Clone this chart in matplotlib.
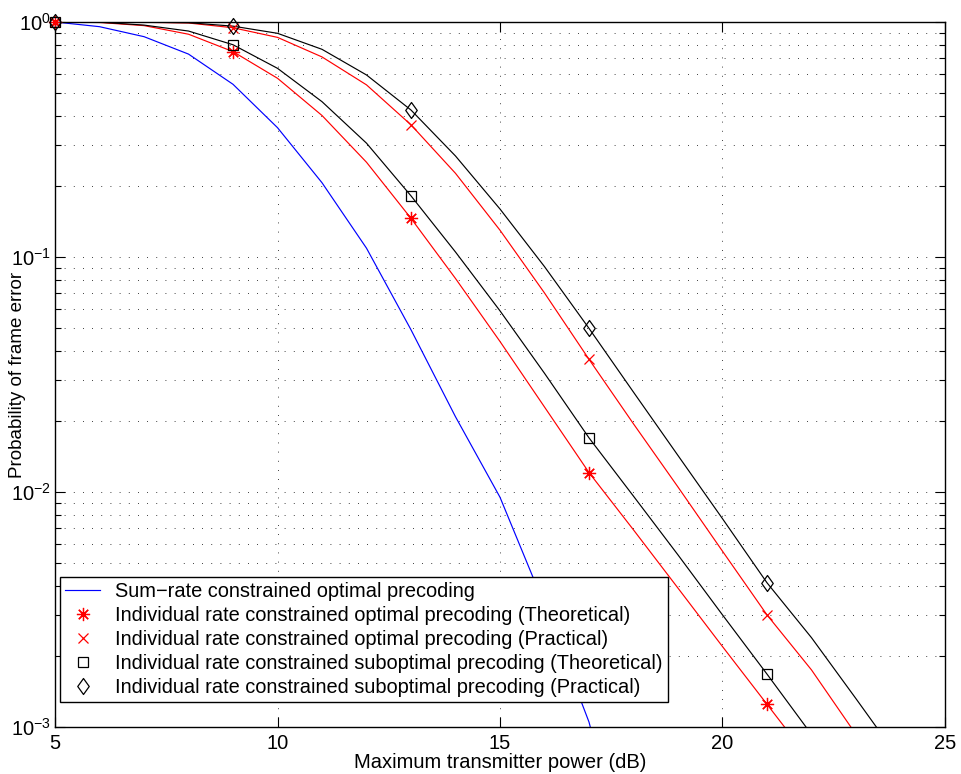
import numpy as np
import matplotlib
matplotlib.use("Agg")
import matplotlib.pyplot as plt
from matplotlib.ticker import LogLocator, NullFormatter, FixedLocator
from matplotlib.path import Path

plt.rcParams['font.family'] = ['Liberation Sans', 'DejaVu Sans']
plt.rcParams['mathtext.fontset'] = 'custom'
plt.rcParams['mathtext.rm'] = 'Liberation Sans'

power_db = [5, 6, 7, 8, 9, 10, 11, 12, 13, 14, 15, 16, 17, 18]
sum_rate = [1.0, 0.955, 0.866, 0.73, 0.543, 0.355, 0.207, 0.109, 0.049,
            0.0209, 0.0095, 0.0033, 0.00105, 0.0002]

power_db_ind = [5, 6, 7, 8, 9, 10, 11, 12, 13, 14, 15, 16, 17, 18, 19, 20, 21, 22, 23, 24]
opt_theory = [1.0, 0.995, 0.965, 0.887, 0.748, 0.576, 0.40, 0.253, 0.146,
              0.081, 0.0437, 0.023, 0.0121, 0.0069, 0.0039, 0.0022, 0.00125,
              0.00071, 0.0004, 0.0002]
opt_practical = [1.0, 1.0, 0.997, 0.99, 0.945, 0.86, 0.71, 0.54, 0.365,
                 0.227, 0.130, 0.0703, 0.0367, 0.0195, 0.0105, 0.0056, 0.0030,
                 0.00175, 0.00093, 0.0005]
sub_theory = [1.0, 0.998, 0.97, 0.915, 0.80, 0.635, 0.458, 0.305, 0.182,
              0.105, 0.059, 0.032, 0.017, 0.0096, 0.0054, 0.0030, 0.00168,
              0.00093, 0.0005, 0.00028]
sub_practical = [1.0, 1.0, 0.998, 0.993, 0.96, 0.895, 0.765, 0.595, 0.422,
                 0.269, 0.160, 0.091, 0.0497, 0.0266, 0.0143, 0.0077, 0.00411,
                 0.0024, 0.00132, 0.00072]

labels = ["Sum\u2212rate constrained optimal precoding",
          "Individual rate constrained optimal precoding (Theoretical)",
          "Individual rate constrained optimal precoding (Practical)",
          "Individual rate constrained suboptimal precoding (Theoretical)",
          "Individual rate constrained suboptimal precoding (Practical)"]

diamond = Path([(0, 1), (0.72, 0), (0, -1), (-0.72, 0), (0, 1)],
               [Path.MOVETO, Path.LINETO, Path.LINETO, Path.LINETO, Path.CLOSEPOLY])

fig = plt.figure(figsize=(9.62, 7.74), dpi=100)
ax = fig.add_axes([0.0572, 0.0607, 0.9251, 0.9109])

lw = 0.85
ax.plot(power_db, sum_rate, color='blue', lw=lw, label=labels[0])
ax.plot(power_db_ind, opt_theory, color='red', lw=lw)
ax.plot(power_db_ind, opt_practical, color='red', lw=lw)
ax.plot(power_db_ind, sub_theory, color='black', lw=lw)
ax.plot(power_db_ind, sub_practical, color='black', lw=lw)

mk = dict(ls='none', markevery=4, clip_on=False, zorder=5)
ax.plot(power_db_ind, opt_theory, marker=(8, 2, 0), color='red',
        markersize=9.5, markeredgewidth=0.9, label=labels[1], **mk)
ax.plot(power_db_ind, opt_practical, marker='x', color='red',
        markersize=7.5, markeredgewidth=0.9, label=labels[2], **mk)
ax.plot(power_db_ind, sub_theory, marker='s', color='black',
        markerfacecolor='none', markersize=7.5, markeredgewidth=0.9,
        label=labels[3], **mk)
ax.plot(power_db_ind, sub_practical, marker=diamond, color='black',
        markerfacecolor='none', markersize=11.5, markeredgewidth=0.9,
        label=labels[4], **mk)

ax.set_yscale('log')
ax.set_xlim(5, 25)
ax.set_ylim(1e-3, 1)
ax.xaxis.set_major_locator(FixedLocator([5, 10, 15, 20, 25]))
ax.yaxis.set_major_locator(LogLocator(base=10, numticks=10))
ax.yaxis.set_minor_locator(LogLocator(base=10, subs=np.arange(2, 10), numticks=20))
ax.yaxis.set_minor_formatter(NullFormatter())

gstyle = dict(color='black', lw=0.6, ls=(0, (1, 10)))
ax.grid(True, which='major', axis='both', **gstyle)
ax.grid(True, which='minor', axis='y', **gstyle)

ax.tick_params(axis='both', which='both', direction='in', top=True, right=True,
               labelsize=14.5, width=0.8)
ax.tick_params(axis='x', which='major', pad=5)
ax.tick_params(axis='y', which='major', pad=3)
ax.tick_params(axis='both', which='major', length=7)
ax.tick_params(axis='both', which='minor', length=4)
for s in ax.spines.values():
    s.set_linewidth(1.0)

ax.set_xlabel("Maximum transmitter power (dB)", fontsize=14.5, labelpad=0)
ax.set_ylabel("Probability of frame error", fontsize=13.5)
ax.yaxis.label.set_va('center')
ax.yaxis.set_label_coords(-0.042, 0.5)

leg = ax.legend(loc='lower left', bbox_to_anchor=(0.0056, 0.0355), fontsize=14.4,
                frameon=True, fancybox=False, edgecolor='black', framealpha=1,
                handlelength=1.75, borderpad=0.25, labelspacing=0.25,
                handletextpad=0.75, borderaxespad=0)
leg.get_frame().set_linewidth(1.0)

fig.savefig("out.png", dpi=100)
